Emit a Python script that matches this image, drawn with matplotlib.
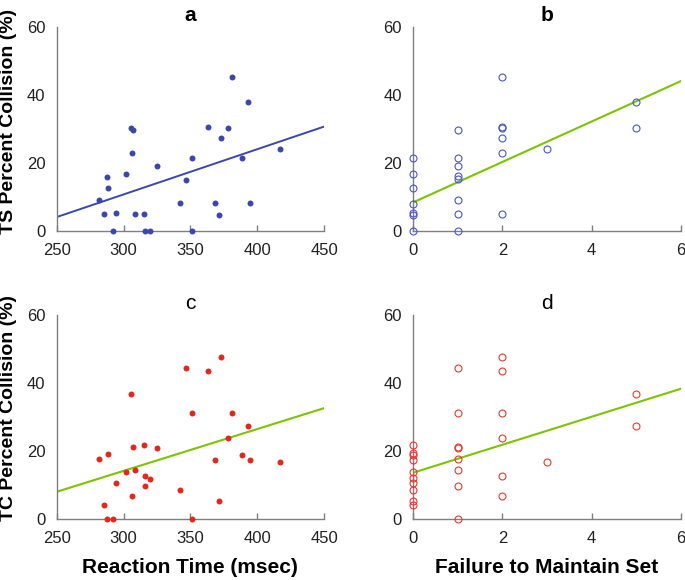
import numpy as np
import matplotlib
matplotlib.use("Agg")
import matplotlib.pyplot as plt

plt.rcParams['font.family'] = ['Liberation Sans', 'DejaVu Sans']

# panel a: TS collision vs reaction time
rt_a = [281.3, 285.7, 287.9, 288.6, 292.0, 294.3, 302.0, 305.4, 307.4, 306.7,
        308.9, 315.6, 316.0, 319.5, 324.7, 342.0, 346.7, 351.3, 351.3, 363.5,
        368.4, 371.6, 373.3, 377.8, 381.2, 388.9, 392.8, 394.8, 416.8]
ts_a = [9.1, 5.0, 15.9, 12.6, 0.0, 5.3, 16.8, 30.3, 29.7, 22.8,
        5.0, 5.0, 0.0, 0.0, 19.2, 8.1, 15.1, 21.6, 0.0, 30.7,
        8.1, 4.8, 27.5, 30.3, 45.3, 21.6, 37.8, 8.1, 24.0]

# panel b: TS collision vs failure to maintain set
fms_b = [0, 0, 0, 0, 0, 0, 0,
         1, 1, 1, 1, 1, 1, 1, 1,
         2, 2, 2, 2, 2, 2,
         3, 5, 5]
ts_b = [21.6, 16.8, 12.6, 8.0, 5.4, 4.8, 0.0,
        29.7, 21.6, 19.2, 16.1, 15.3, 9.1, 5.0, 0.0,
        45.3, 30.7, 30.2, 27.5, 22.8, 5.0,
        24.0, 37.8, 30.3]

# panel c: TC collision vs reaction time
rt_c = [281.5, 288.6, 285.7, 287.9, 292.0, 294.3, 302.0, 305.4, 307.4, 306.7,
        308.9, 315.6, 315.8, 316.0, 319.5, 324.7, 342.0, 346.7, 351.3, 351.3,
        363.5, 368.4, 371.6, 373.3, 377.8, 381.2, 388.9, 392.8, 394.8, 416.8]
tc_c = [17.7, 19.1, 4.1, 0.0, 0.0, 10.6, 13.7, 36.9, 21.2, 6.8,
        14.3, 21.8, 12.6, 9.6, 11.9, 20.9, 8.4, 44.5, 31.3, 0.0,
        43.5, 17.4, 5.4, 47.6, 23.9, 31.3, 18.8, 27.4, 17.4, 16.8]

# panel d: TC collision vs failure to maintain set
fms_d = [0, 0, 0, 0, 0, 0, 0, 0, 0, 0,
         1, 1, 1, 1, 1, 1, 1, 1,
         2, 2, 2, 2, 2, 2,
         3, 5, 5]
tc_d = [21.8, 19.3, 18.8, 17.4, 13.7, 12.0, 10.7, 8.4, 5.3, 4.1,
        44.4, 31.3, 21.1, 20.9, 17.6, 14.3, 9.6, 0.0,
        47.6, 43.5, 31.3, 23.8, 12.6, 6.7,
        16.7, 36.9, 27.4]

# regression lines (intercept, slope)
fit_a = (-29.15, 0.133)
fit_b = (8.4, 5.95)
fit_c = (-22.75, 0.123)
fit_d = (13.6, 4.12)

blue = '#3b47ad'
blue_open = '#4b56c4'
red = '#e0281d'
red_open = '#e8392f'
green = '#7cc400'
spine_col = '#7f7f7f'

fig = plt.figure(figsize=(6.85, 5.8), dpi=100)
W, H = 685, 580


def make_ax(x0, y0, x1, y1):
    return fig.add_axes([x0 / W, 1 - y1 / H, (x1 - x0) / W, (y1 - y0) / H])


ax_a = make_ax(56.7, 27, 324, 231)
ax_b = make_ax(413, 27, 681, 231)
ax_c = make_ax(56.7, 315, 324, 519)
ax_d = make_ax(413, 315, 681, 519)


def style(ax, xlim, xticks):
    ax.set_xlim(xlim)
    ax.set_ylim(0, 60)
    ax.set_xticks(xticks)
    ax.set_yticks([0, 20, 40, 60])
    for s in ['top', 'right']:
        ax.spines[s].set_visible(False)
    for s in ['left', 'bottom']:
        ax.spines[s].set_color(spine_col)
        ax.spines[s].set_linewidth(1.0)
    ax.tick_params(axis='x', direction='in', length=4, width=1, color=spine_col,
                   labelsize=12, labelcolor='#222222', pad=8.5)
    ax.tick_params(axis='y', length=0, labelsize=12, labelcolor='#222222', pad=8)


# a
style(ax_a, (250, 450), [250, 300, 350, 400, 450])
ax_a.plot(rt_a, ts_a, 'o', color=blue, ms=4.3, mec='none', clip_on=False, zorder=3)
xx = np.array([250, 450])
ax_a.plot(xx, fit_a[0] + fit_a[1] * xx, color=blue, lw=1.4)
ax_a.set_title('a', fontsize=15, fontweight='bold', pad=4.5)
ax_a.set_ylabel('TS Percent Collision (%)', fontsize=14, fontweight='bold')
ax_a.yaxis.set_label_coords(-0.15, 0.537)

# b
style(ax_b, (0, 6), [0, 2, 4, 6])
ax_b.plot(fms_b, ts_b, 'o', mfc='none', mec=blue_open, ms=5, mew=0.8, clip_on=False, zorder=3)
xx = np.array([0, 6])
ax_b.plot(xx, fit_b[0] + fit_b[1] * xx, color=green, lw=1.5)
ax_b.set_title('b', fontsize=15, fontweight='bold', pad=4.5)

# c
style(ax_c, (250, 450), [250, 300, 350, 400, 450])
ax_c.plot(rt_c, tc_c, 'o', color=red, ms=4.3, mec='none', clip_on=False, zorder=3)
xx = np.array([250, 450])
ax_c.plot(xx, fit_c[0] + fit_c[1] * xx, color=green, lw=1.5)
ax_c.set_title('c', fontsize=15, pad=4.5)
ax_c.set_ylabel('TC Percent Collision (%)', fontsize=14, fontweight='bold')
ax_c.yaxis.set_label_coords(-0.15, 0.542)
ax_c.set_xlabel('Reaction Time (msec)', fontsize=15, fontweight='bold')
ax_c.xaxis.set_label_coords(0.5, -0.19)

# d
style(ax_d, (0, 6), [0, 2, 4, 6])
ax_d.plot(fms_d, tc_d, 'o', mfc='none', mec=red_open, ms=5, mew=0.8, clip_on=False, zorder=3)
xx = np.array([0, 6])
ax_d.plot(xx, fit_d[0] + fit_d[1] * xx, color=green, lw=1.5)
ax_d.set_title('d', fontsize=15, pad=4.5)
ax_d.set_xlabel('Failure to Maintain Set', fontsize=15, fontweight='bold')
ax_d.xaxis.set_label_coords(0.5, -0.19)

fig.savefig('out.png', dpi=100)
